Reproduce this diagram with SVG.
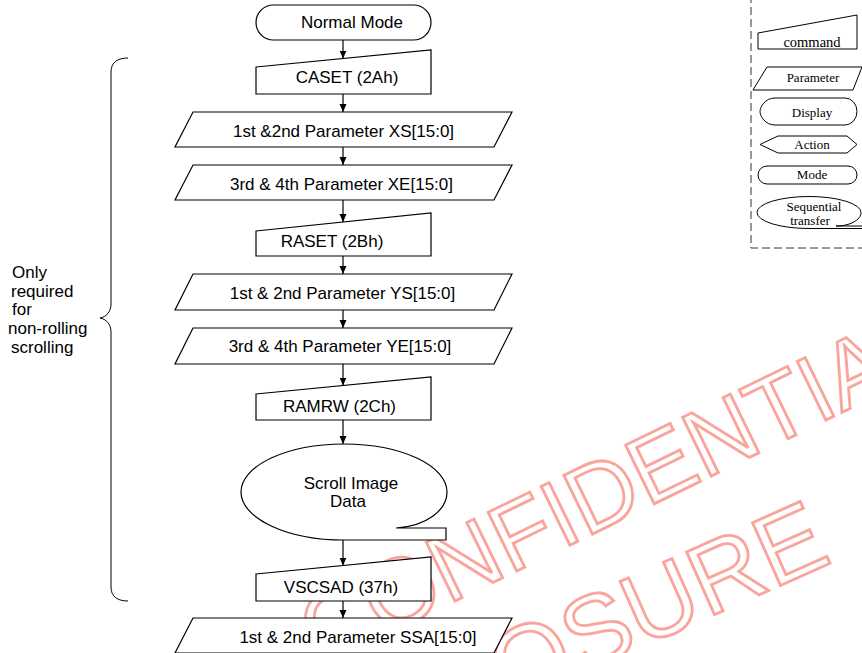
<svg xmlns="http://www.w3.org/2000/svg" width="862" height="653" viewBox="0 0 862 653">
  <defs>
    <marker id="arrow" markerUnits="userSpaceOnUse" markerWidth="8" markerHeight="8" refX="8" refY="3.5" orient="auto">
      <path d="M0,0 L8,3.5 L0,7 Z" fill="#000"/>
    </marker>
    <style>
      .box{fill:#fff;stroke:#000;stroke-width:1.2}
      .lbox{fill:#fff;stroke:#000;stroke-width:1}
      .t{font-family:"Liberation Sans",Arial,sans-serif;font-size:17px;text-anchor:middle;fill:#000}
      .side{font-family:"Liberation Sans",Arial,sans-serif;font-size:17px;fill:#000}
      .lg{font-family:"Liberation Serif","Times New Roman",serif;font-size:13px;text-anchor:middle;fill:#000}
      .wm{font-family:"Liberation Sans",Arial,sans-serif;font-size:95px;fill:none;stroke:#f9a59c;stroke-width:2.8}
      .conn{stroke:#000;stroke-width:1.2;fill:none;marker-end:url(#arrow)}
    </style>
  </defs>
  <rect width="862" height="653" fill="#fff"/>

  <!-- watermark, drawn underneath the chart -->
  <g id="watermark">
    <text class="wm" transform="translate(320,667) rotate(-26)">CONFIDENTIAL</text>
    <text class="wm" transform="translate(240,826) rotate(-24)" style="font-size:100px">DISCLOSURE</text>
  </g>

  <!-- bracket and side note -->
  <g id="note">
    <path d="M128,58 C118,58 111,62 111,72 V304 C111,312 106,317 100,318 C106,319 111,324 111,332 V587 C111,597 118,601 128,601" fill="none" stroke="#000" stroke-width="1"/>
    <text class="side" x="12" y="278">Only</text>
    <text class="side" x="11" y="297">required</text>
    <text class="side" x="12" y="315">for</text>
    <text class="side" x="8" y="334">non-rolling</text>
    <text class="side" x="11" y="353">scrolling</text>
  </g>

  <!-- connectors -->
  <g id="connectors">
    <line class="conn" x1="343" y1="40" x2="343" y2="58.5"/>
    <line class="conn" x1="343" y1="94" x2="343" y2="112"/>
    <line class="conn" x1="343" y1="147" x2="343" y2="165"/>
    <line class="conn" x1="343" y1="200" x2="343" y2="222"/>
    <line class="conn" x1="343" y1="256" x2="343" y2="274"/>
    <line class="conn" x1="343" y1="310" x2="343" y2="328"/>
    <line class="conn" x1="343" y1="364" x2="343" y2="385.5"/>
    <line class="conn" x1="343" y1="420" x2="343" y2="444"/>
    <line class="conn" x1="343" y1="540" x2="343" y2="565.5"/>
    <line class="conn" x1="343" y1="601" x2="343" y2="618"/>
  </g>

  <!-- flow nodes -->
  <g id="normal-mode">
    <rect class="box" x="256" y="5" width="175" height="35" rx="17.5"/>
    <text class="t" x="352" y="28">Normal Mode</text>
  </g>
  <g id="caset">
    <path class="box" d="M256,67 L431,50 V94 H256 Z"/>
    <text class="t" x="347" y="83">CASET (2Ah)</text>
  </g>
  <g id="xs">
    <path class="box" d="M193,112 H512 L494,147 H175 Z"/>
    <text class="t" x="343.5" y="137">1st &amp;2nd Parameter XS[15:0]</text>
  </g>
  <g id="xe">
    <path class="box" d="M193,165 H512 L494,200 H175 Z"/>
    <text class="t" x="341.5" y="190">3rd &amp; 4th Parameter XE[15:0]</text>
  </g>
  <g id="raset">
    <path class="box" d="M256,231 L431,213 V256 H256 Z"/>
    <text class="t" x="332" y="247">RASET (2Bh)</text>
  </g>
  <g id="ys">
    <path class="box" d="M193,274 H512 L494,310 H175 Z"/>
    <text class="t" x="342.5" y="299">1st &amp; 2nd Parameter YS[15:0]</text>
  </g>
  <g id="ye">
    <path class="box" d="M193,328 H512 L494,364 H175 Z"/>
    <text class="t" x="340" y="352">3rd &amp; 4th Parameter YE[15:0]</text>
  </g>
  <g id="ramrw">
    <path class="box" d="M256,394 L431,377 V420 H256 Z"/>
    <text class="t" x="339.5" y="412">RAMRW (2Ch)</text>
  </g>
  <g id="scroll-data">
    <path class="box" d="M446,528 H396 C427,526 447,510 447,492 A103,48 0 0 0 241,492 A103,48 0 0 0 344,540 H446 Z"/>
    <text class="t" x="351" y="489">Scroll Image</text>
    <text class="t" x="348" y="507">Data</text>
  </g>
  <g id="vscsad">
    <path class="box" d="M256,574 L431,557 V601 H256 Z"/>
    <text class="t" x="341" y="593">VSCSAD (37h)</text>
  </g>
  <g id="ssa">
    <path class="box" d="M193,618 H512 L494,653 H175 Z"/>
    <text class="t" x="358" y="643">1st &amp; 2nd Parameter SSA[15:0]</text>
  </g>

  <!-- symbol key -->
  <g id="legend">
    <path d="M751,-5 V248 H870" fill="none" stroke="#333" stroke-width="1" stroke-dasharray="8,4"/>
    <g id="legend-command">
      <path class="lbox" d="M758,33 L857,15 V49 H758 Z"/>
      <text class="lg" x="812" y="47" style="font-size:14.5px">command</text>
    </g>
    <g id="legend-parameter">
      <path class="lbox" d="M767,67 H862 L853,90 H753 Z"/>
      <text class="lg" x="813" y="82">Parameter</text>
    </g>
    <g id="legend-display">
      <path class="lbox" d="M775,98 H845 A12,13.5 0 0 1 845,125 H775 C765,125 760,116 760,111.5 C760,107 765,98 775,98 Z"/>
      <text class="lg" x="812" y="117">Display</text>
    </g>
    <g id="legend-action">
      <polygon class="lbox" points="760,144.5 778,136 847,136 857,144.5 847,153 778,153"/>
      <text class="lg" x="812" y="149">Action</text>
    </g>
    <g id="legend-mode">
      <rect class="lbox" x="758" y="166" width="99" height="18" rx="9"/>
      <text class="lg" x="812" y="179">Mode</text>
    </g>
    <g id="legend-sequential">
      <path class="lbox" d="M870,226 H836 C850,226 861,220 861,212.5 A52,16 0 0 0 757,212.5 A52,16 0 0 0 809,228.5 H870"/>
      <text class="lg" x="814" y="211">Sequential</text>
      <text class="lg" x="810" y="225">transfer</text>
    </g>
  </g>
</svg>
